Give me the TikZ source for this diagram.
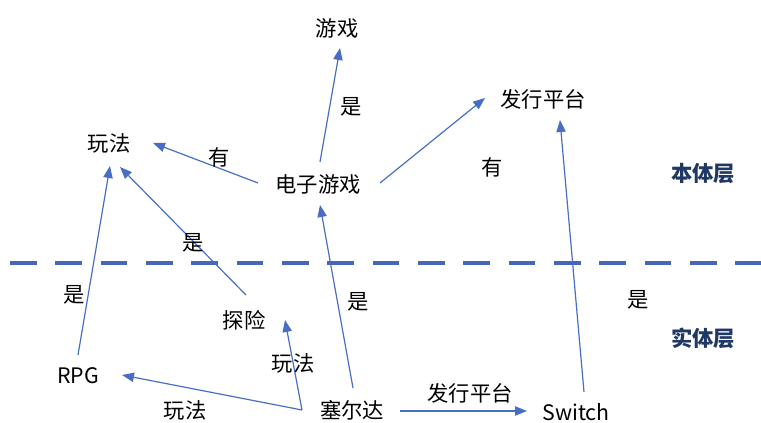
\documentclass[tikz,border=0pt]{standalone}
\usepackage{fontspec}
\setmainfont{Noto Sans CJK SC}
\usetikzlibrary{arrows.meta}
\definecolor{linkblue}{RGB}{72,110,196}
\definecolor{dashblue}{RGB}{70,104,180}
\definecolor{layerblue}{RGB}{31,56,100}
\begin{document}
\begin{tikzpicture}[x=.75pt,y=-.75pt,every node/.style={inner sep=0pt,font=\fontsize{16}{19}\selectfont},link/.style={draw=linkblue,line width=.9pt,-{Triangle[length=9pt,width=7pt]}},layer/.style={font=\fontsize{16}{19}\selectfont\bfseries,text=layerblue}]
\useasboundingbox (0,0) rectangle (761,423);
% 本体层
\node (youxi) at (337,28) {游戏};\node (wanfa) at (109,143) {玩法};
\node (dzyx) at (318,184) {电子游戏};\node (fxpt) at (543,99) {发行平台};
% 实体层
\node (rpg) at (78,376) {RPG};\node (tanxian) at (244,320) {探险};
\node (zelda) at (352,410) {塞尔达};\node (switch) at (576,412) {Switch};
\node[layer] (benti) at (703,174) {本体层};\node[layer] (shiti) at (703,338) {实体层};
\coordinate (dl) at (10,263);\coordinate (dr) at (761,263);
\draw[dashblue,line width=3.4pt,dash pattern=on 20pt off 14pt] (dl)--(dr);
\draw[link] ([shift={(2,-22)}]dzyx.center)--([shift={(3,20)}]youxi.center);
\draw[link] ([shift={(-60,-1)}]dzyx.center)--([shift={(44,0)}]wanfa.center);
\draw[link] ([shift={(62,-1)}]dzyx.center)--([shift={(-58,-1)}]fxpt.center);
\draw[link] ([shift={(8,-20)}]switch.center)--([shift={(17,21)}]fxpt.center);
\draw[link] ([shift={(1,-22)}]zelda.center)--([shift={(2,21)}]dzyx.center);
\draw[link] ([shift={(2,-25)}]tanxian.center)--([shift={(11,24)}]wanfa.center);
\draw[link] ([shift={(0,-21)}]rpg.center)--([shift={(1,23)}]wanfa.center);
\draw[link] ([shift={(-50,0)}]zelda.center)--([shift={(41,0)}]tanxian.center);
\draw[link] ([shift={(-50,0)}]zelda.center)--([shift={(44,-1)}]rpg.center);
\draw[link] ([shift={(48,1)}]zelda.center)--([shift={(-49,-1)}]switch.center);
% 边上的字
\node (l1) at (351,107) {是};\node (l2) at (219,157) {有};\node (l3) at (492,167) {有};
\node (l4) at (638,300) {是};\node (l5) at (358,302) {是};\node (l6) at (193,243) {是};
\node (l7) at (74,295) {是};\node (l8) at (293,363) {玩法};\node (l9) at (185,410) {玩法};
\node (l10) at (470,393) {发行平台};
\end{tikzpicture}
\end{document}
